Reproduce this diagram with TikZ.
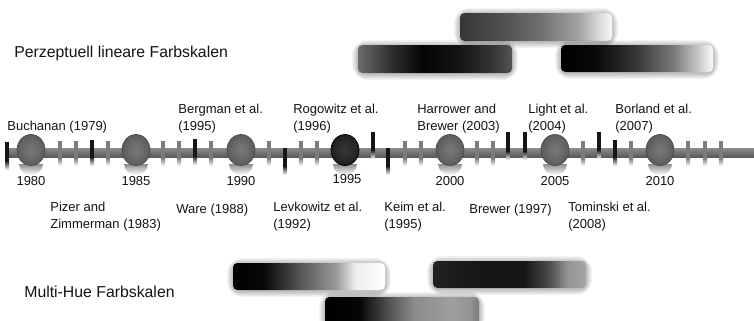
\documentclass[tikz,border=0pt]{standalone}
\usepackage{fontspec}
\setmainfont{Liberation Sans}
\usetikzlibrary{shapes.geometric}

\definecolor{axtop}{HTML}{8C8C8C}
\definecolor{axbot}{HTML}{5A5A5A}
\definecolor{tickgray}{HTML}{7C7C7C}
\definecolor{tickdark}{HTML}{151515}
\definecolor{ballin}{HTML}{7A7A7A}
\definecolor{ballout}{HTML}{5C5C5C}
\definecolor{ballrim}{HTML}{4A4A4A}
\definecolor{txt}{HTML}{141414}

% colour ramps of the six scale bars (25bp..75bp is the bar itself)
\pgfdeclarehorizontalshading{scaleA}{100bp}{rgb(0bp)=(0.21,0.21,0.21); rgb(25bp)=(0.21,0.21,0.21); rgb(40bp)=(0.32,0.32,0.32); rgb(52bp)=(0.45,0.45,0.45); rgb(64bp)=(0.64,0.64,0.64); rgb(71bp)=(0.86,0.86,0.86); rgb(75bp)=(0.97,0.97,0.97); rgb(100bp)=(0.97,0.97,0.97)}
\pgfdeclarehorizontalshading{scaleB}{100bp}{rgb(0bp)=(0.42,0.42,0.42); rgb(25bp)=(0.42,0.42,0.42); rgb(36bp)=(0.18,0.18,0.18); rgb(46bp)=(0.02,0.02,0.02); rgb(58bp)=(0.08,0.08,0.08); rgb(68bp)=(0.2,0.2,0.2); rgb(75bp)=(0.33,0.33,0.33); rgb(100bp)=(0.33,0.33,0.33)}
\pgfdeclarehorizontalshading{scaleC}{100bp}{rgb(0bp)=(0,0,0); rgb(25bp)=(0,0,0); rgb(36bp)=(0.03,0.03,0.03); rgb(50bp)=(0.22,0.22,0.22); rgb(62bp)=(0.48,0.48,0.48); rgb(70bp)=(0.78,0.78,0.78); rgb(75bp)=(0.98,0.98,0.98); rgb(100bp)=(0.98,0.98,0.98)}
\pgfdeclarehorizontalshading{scaleD}{100bp}{rgb(0bp)=(0,0,0); rgb(25bp)=(0,0,0); rgb(35bp)=(0.03,0.03,0.03); rgb(48bp)=(0.36,0.36,0.36); rgb(59bp)=(0.6,0.6,0.6); rgb(65bp)=(0.93,0.93,0.93); rgb(75bp)=(1,1,1); rgb(100bp)=(1,1,1)}
\pgfdeclarehorizontalshading{scaleE}{100bp}{rgb(0bp)=(0.13,0.13,0.13); rgb(25bp)=(0.13,0.13,0.13); rgb(42bp)=(0.08,0.08,0.08); rgb(55bp)=(0.09,0.09,0.09); rgb(63bp)=(0.3,0.3,0.3); rgb(69bp)=(0.58,0.58,0.58); rgb(75bp)=(0.65,0.65,0.65); rgb(100bp)=(0.65,0.65,0.65)}
\pgfdeclarehorizontalshading{scaleF}{100bp}{rgb(0bp)=(0,0,0); rgb(25bp)=(0,0,0); rgb(36bp)=(0.02,0.02,0.02); rgb(46bp)=(0.33,0.33,0.33); rgb(54bp)=(0.55,0.55,0.55); rgb(66bp)=(0.62,0.62,0.62); rgb(72bp)=(0.58,0.58,0.58); rgb(75bp)=(0.48,0.48,0.48); rgb(100bp)=(0.48,0.48,0.48)}

% a soft-edged colour scale bar: #1 shading, #2 left, #3 top, #4 right, #5 bottom
\newcommand\scalebar[5]{%
  \foreach \g in {6,5,4,3,2,1}
    \fill[black, opacity=0.045, rounded corners=3+\g] (#2-\g,#3-\g+1) rectangle (#4+\g,#5+\g+1);
  \shade[shading=#1, rounded corners=2.5] (#2,#3) rectangle (#4,#5);
}

\begin{document}
\begin{tikzpicture}[x=0.02cm, y=-0.02cm,
  lbl/.style={inner sep=0pt, anchor=base west, align=left, text=txt,
              font=\fontsize{7.4}{9.4}\selectfont},
  yearlbl/.style={inner sep=0pt, anchor=base, text=txt,
              font=\fontsize{7.4}{9}\selectfont},
  title/.style={inner sep=0pt, anchor=base west, text=txt,
              font=\fontsize{9}{11}\selectfont},
  yearball/.style={ellipse, inner sep=0pt, minimum width=0.56cm, minimum height=0.62cm,
              draw=ballrim, line width=0.4pt, inner color=ballin, outer color=ballout},
  keyball/.style={yearball, inner color=black!78, outer color=black!88, draw=black}]

\clip (0,0) rectangle (754,321);
\fill[white] (0,0) rectangle (754,321);

% section titles
\node[title] (tlin) at (14,57) {Perzeptuell lineare Farbskalen};
\node[title] (tmulti) at (24,297) {Multi-Hue Farbskalen};

% colour scale bars
\scalebar{scaleA}{460}{13}{612}{41}
\scalebar{scaleB}{358}{45}{512}{73}
\scalebar{scaleC}{561}{45}{713}{72}
\scalebar{scaleD}{233}{263}{385}{290}
\scalebar{scaleE}{433}{261}{586}{288}
\scalebar{scaleF}{325}{297}{479}{326}

% time axis
\coordinate (axstart) at (6,152.5);
\coordinate (axend) at (760,152.5);
\shade[top color=axtop, bottom color=axbot] (6,148) rectangle (760,157);

% minor ticks with their fading reflection
\foreach \x in {60,76,108,163,179,211,269,301,317,405,421,477,493,583,631,688,705,721} {
  \fill[tickgray] (\x-2,141) rectangle (\x+2,158);
  \shade[top color=tickgray, bottom color=white] (\x-2,158) rectangle (\x+2,166);
}

% publication ticks: x / top / bottom
\foreach \x/\t/\b in {7/142/162, 92/140/158, 195/139/157, 285/148/167, 373/132/151,
                      388/148/167, 508/132/152, 525/132/152, 599/132/151, 615/140/158} {
  \fill[tickdark] (\x-2,\t) rectangle (\x+2,\b);
  \shade[top color=tickdark!85, bottom color=white] (\x-2,\b) rectangle (\x+2,\b+8);
}

% reflections under the year balls
\foreach \c in {31,136,241,345,450,555,660} {
  \shade[top color=black!45, bottom color=white]
    (\c-12,164) arc[start angle=180, end angle=0, x radius=12, y radius=11] -- cycle;
}

% year balls
\node[yearball] (b1980) at (31,150) {};
\node[yearball] (b1985) at (136,150) {};
\node[yearball] (b1990) at (241,150) {};
\node[keyball]  (b1995) at (345,150) {};
\node[yearball] (b2000) at (450,150) {};
\node[yearball] (b2005) at (555,150) {};
\node[yearball] (b2010) at (660,150) {};

% year numbers
\node[yearlbl] (y1980) at (31,185) {1980};
\node[yearlbl] (y1985) at (136,185) {1985};
\node[yearlbl] (y1990) at (241,185) {1990};
\node[yearlbl] (y1995) at (347,183) {1995};
\node[yearlbl] (y2000) at (450,185) {2000};
\node[yearlbl] (y2005) at (555,185) {2005};
\node[yearlbl] (y2010) at (660,185) {2010};

% publications above the axis (base = baseline of the last line)
\node[lbl] (buchanan) at (7,130) {Buchanan (1979)};
\node[lbl] (bergman)  at (178,130) {Bergman et al.\\(1995)};
\node[lbl] (rogowitz) at (293,130) {Rogowitz et al.\\(1996)};
\node[lbl] (harrower) at (417,130) {Harrower and\\Brewer (2003)};
\node[lbl] (light)    at (528,130) {Light et al.\\(2004)};
\node[lbl] (borland)  at (615,130) {Borland et al.\\(2007)};

% publications below the axis
\node[lbl] (pizer)     at (50,228)  {Pizer and\\Zimmerman (1983)};
\node[lbl] (ware)      at (176,213) {Ware (1988)};
\node[lbl] (levkowitz) at (273,228) {Levkowitz et al.\\(1992)};
\node[lbl] (keim)      at (384,228) {Keim et al.\\(1995)};
\node[lbl] (brewer)    at (469,213) {Brewer (1997)};
\node[lbl] (tominski)  at (568,228) {Tominski et al.\\(2008)};
\end{tikzpicture}
\end{document}
